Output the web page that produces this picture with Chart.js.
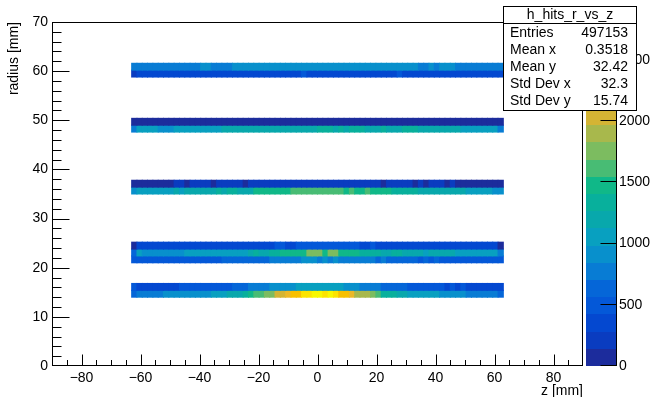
<!DOCTYPE html>
<html><head><meta charset="utf-8">
<script src="https://cdn.jsdelivr.net/npm/chart.js@4.4.0/dist/chart.umd.min.js"></script>
<style>html,body{margin:0;padding:0;background:#fff}</style>
</head><body>
<canvas id="c" width="650" height="397"></canvas>
<script>
// ---- histogram binning ----
const HIST_NAME = 'h_hits_r_vs_z';
const X_RANGE = [-90, 90];
const X_NBINS = 100;
const Y_RANGE = [0, 70];
const Y_NBINS = 50;
const FIRST_X_BIN = 15;
const ROW_BINS = [10, 11, 15, 16, 17, 25, 26, 34, 35, 42, 43];

// ---- bin contents, one array per radius bin (70 z bins each) ----
const r14_0 = [640,760,780,770,790,775,900,915,920,905,930,925,940,935,950,1040,1070,1090,1180,1210,1230,1330,1480,1600,1640,1740,1780,2020,2060,2190,2300,2340,2580,2620,2760,2810,2600,2750,2580,2330,2290,2160,1900,1880,1860,1760,1620,1350,1320,1300,1200,1170,1080,1060,1040,1030,1020,1000,960,940,930,900,890,820,800,790,770,760,740,630];
const r15_4 = [480,400,360,340,350,330,360,370,380,440,460,470,480,490,500,510,520,530,540,590,620,650,720,760,790,820,860,880,900,920,940,1000,1020,1040,1060,1080,1070,1050,1030,1010,950,910,870,830,790,760,730,680,650,630,600,580,550,520,500,480,460,450,440,410,450,400,440,390,370,350,340,330,320,300];
const r21_0 = [460,470,480,490,500,500,510,520,510,520,530,520,530,540,540,550,550,570,590,600,610,630,640,650,670,690,710,730,760,780,800,820,860,880,870,830,860,840,850,820,800,790,770,760,740,720,690,710,680,660,640,620,600,580,550,570,540,565,540,530,520,520,510,500,490,480,470,460,450,440];
const r22_4 = [650,1010,930,940,950,960,950,970,960,975,1000,1020,1030,1050,1060,1070,1080,1090,1100,1090,1100,1110,1180,1290,1210,1240,1300,1330,1420,1450,1470,1500,1520,1720,1740,1700,1510,1710,1730,1540,1500,1470,1430,1390,1360,1330,1300,1250,1220,1280,1270,1240,1220,1200,1180,1110,1150,1170,1190,1160,1140,1110,1090,1080,1060,1050,1040,1020,1000,760];
const r23_8 = [120,300,310,320,330,330,340,340,350,350,360,360,370,370,370,380,380,390,390,390,400,400,400,410,410,410,420,430,440,415,410,430,440,450,450,460,460,450,450,440,440,430,430,410,400,425,410,400,400,390,390,380,380,370,370,360,360,350,350,340,340,330,330,320,320,310,300,300,290,110];
const r35_0 = [900,1030,1050,1060,1070,1080,1090,1100,1140,1110,1150,1170,1180,1200,1220,1240,1280,1250,1290,1300,1250,1240,1260,1420,1440,1460,1480,1500,1510,1530,1560,1580,1600,1620,1640,1650,1630,1610,1590,1570,1530,1560,1520,1510,1550,1500,1480,1450,1420,1400,1370,1340,1310,1280,1260,1240,1220,1200,1190,1180,1160,1150,1130,1110,1090,1070,1040,1000,960,900];
const r36_4 = [100,110,115,120,125,130,130,135,150,160,135,150,155,160,150,138,160,170,165,170,160,136,170,180,185,190,200,205,210,220,225,230,235,240,240,235,230,225,220,210,200,190,180,175,170,160,150,138,160,170,165,155,150,135,145,132,150,148,145,130,143,130,125,120,115,110,105,100,95,90];
const r47_6 = [780,1000,1010,1000,990,960,950,970,990,1000,1010,1020,1030,1040,1050,1060,1080,1130,1140,1150,1160,1170,1180,1190,1200,1200,1210,1210,1220,1220,1230,1230,1240,1240,1250,1270,1290,1280,1250,1280,1260,1290,1300,1280,1250,1240,1230,1270,1250,1240,1250,1280,1270,1290,1250,1240,1220,1200,1190,1170,1160,1140,1110,1090,1070,1050,1030,1010,990,790];
const r49_0 = [95,100,105,108,110,112,115,115,118,118,120,120,122,122,124,124,125,125,126,126,127,127,128,128,129,129,130,130,131,131,132,132,132,133,133,133,133,132,132,132,131,131,130,130,129,129,128,128,127,127,126,126,125,125,124,124,122,122,120,120,118,118,115,115,112,110,108,105,100,95];
const r58_8 = [250,300,310,320,330,340,350,355,360,365,370,375,380,385,390,390,395,395,400,400,405,405,410,410,410,410,415,415,415,415,415,418,430,418,415,415,412,410,410,408,405,405,400,400,398,395,395,392,390,390,425,415,410,405,400,395,390,385,380,375,370,365,360,355,350,340,330,320,305,290];
const r60_2 = [720,740,750,760,770,780,790,800,805,810,815,820,830,850,860,835,830,835,840,850,855,860,865,870,875,880,885,890,895,900,905,910,910,915,915,920,920,920,920,915,915,910,905,900,895,890,885,880,870,865,860,855,850,848,835,830,850,835,850,855,848,835,830,820,810,800,790,770,750,720];
const ROWS = [r14_0, r15_4, r21_0, r22_4, r23_8, r35_0, r36_4, r47_6, r49_0, r58_8, r60_2];

// ---- axes / labels ----
const X_TICKS = [-80, -60, -40, -20, 0, 20, 40, 60, 80];
const Y_TICKS = [0, 10, 20, 30, 40, 50, 60, 70];
const Z_TICKS = [0, 500, 1000, 1500, 2000, 2500];
const X_TITLE = 'z [mm]';
const Y_TITLE = 'radius [mm]';
const STATS_LABELS = ['Entries', 'Mean x', 'Mean y', 'Std Dev x', 'Std Dev y'];
const STATS_VALUES = ['497153', '0.3518', '32.42', '32.3', '15.74'];

// ---- style ----
const PALETTE = ['#1c2c9c','#0a3cc0','#0448d0','#0458d8','#0566d8','#087cd4','#0890cc','#08a0c0','#08a8ac','#08b09c',
                 '#10b888','#48bc74','#7cbc60','#a8b84c','#d4b434','#ecb828','#f8c000','#fcd000','#fce400','#f8f800'];
const NCONT = PALETTE.length;
const FONT = '"Liberation Sans", Arial, sans-serif';

const xw = (X_RANGE[1] - X_RANGE[0]) / X_NBINS;
const yw = (Y_RANGE[1] - Y_RANGE[0]) / Y_NBINS;
const ZMAX = Math.max(...ROWS.flat());
const cells = [];
ROW_BINS.forEach((jb, r) => {
  ROWS[r].forEach((v, k) => {
    const ib = FIRST_X_BIN + k;
    cells.push({ x: [X_RANGE[0] + ib * xw, X_RANGE[0] + (ib + 1) * xw], y: Y_RANGE[0] + (jb + 0.5) * yw, v });
  });
});
const colorFor = v => PALETTE[Math.min(NCONT - 1, Math.floor(v / ZMAX * NCONT))];
const fmt = v => (v < 0 ? '\u2212' + Math.abs(v) : String(v));
const noPad = s => { s.paddingTop = 0; s.paddingBottom = 0; s.paddingLeft = 0; s.paddingRight = 0; };

const rootPlugin = {
  id: 'rootStyle',
  afterDraw(chart) {
    const { ctx, chartArea: a, scales: { x, y, z } } = chart;
    ctx.save();
    ctx.strokeStyle = '#000';
    ctx.lineWidth = 1;
    const L = Math.round(a.left) + 0.5, R = Math.round(a.right) - 0.5, T = Math.round(a.top) + 0.5, B = Math.round(a.bottom) - 0.5;
    ctx.strokeRect(L, T, R - L, B - T);
    ctx.beginPath();
    for (let v = X_RANGE[0] + 5; v < X_RANGE[1]; v += 5) {
      const px = Math.round(x.getPixelForValue(v)) + 0.5;
      const len = X_TICKS.includes(v) ? 11 : 5.5;
      ctx.moveTo(px, B); ctx.lineTo(px, B - len);
    }
    for (let v = Y_RANGE[0] + 2; v < Y_RANGE[1]; v += 2) {
      const py = Math.round(y.getPixelForValue(v)) + 0.5;
      const len = Y_TICKS.includes(v) ? 17 : 9;
      ctx.moveTo(L, py); ctx.lineTo(L + len, py);
    }
    ctx.stroke();
    // palette
    const px0 = Math.round(a.right) + 3, pw = 30;
    for (let i = 0; i < NCONT; i++) {
      const y0 = Math.round(z.getPixelForValue(i * ZMAX / NCONT));
      const y1 = Math.round(z.getPixelForValue((i + 1) * ZMAX / NCONT));
      ctx.fillStyle = PALETTE[i];
      ctx.fillRect(px0, y1, pw, y0 - y1);
    }
    ctx.beginPath();
    const ax = px0 + pw + 0.5;
    ctx.moveTo(ax, Math.round(a.top)); ctx.lineTo(ax, Math.round(a.bottom));
    Z_TICKS.forEach(v => {
      const py = Math.round(z.getPixelForValue(v)) - 0.5;
      ctx.moveTo(ax - 16, py); ctx.lineTo(ax, py);
    });
    ctx.stroke();
    // stats box
    const bx0 = 503.5, bx1 = 636.5, by0 = 6.5, by1 = 110.5, sep = 23.5;
    ctx.fillStyle = '#fff';
    ctx.fillRect(bx0, by0, bx1 - bx0, by1 - by0);
    ctx.strokeRect(bx0, by0, bx1 - bx0, by1 - by0);
    ctx.beginPath(); ctx.moveTo(bx0, sep); ctx.lineTo(bx1, sep); ctx.stroke();
    ctx.fillStyle = '#000';
    ctx.font = '14px ' + FONT;
    ctx.textBaseline = 'middle';
    ctx.textAlign = 'center';
    ctx.fillText(HIST_NAME, (bx0 + bx1) / 2, 15);
    STATS_LABELS.forEach((lab, i) => {
      const ty = 33 + i * 17;
      ctx.textAlign = 'left'; ctx.fillText(lab, 510, ty);
      ctx.textAlign = 'right'; ctx.fillText(STATS_VALUES[i], 628, ty);
    });
    ctx.restore();
  }
};

Chart.defaults.font.family = FONT;
Chart.defaults.color = '#000';

new Chart(document.getElementById('c'), {
  type: 'bar',
  data: {
    datasets: [{
      data: cells,
      backgroundColor: c => (c.raw ? colorFor(c.raw.v) : '#000'),
      borderWidth: 0,
      borderSkipped: false,
      categoryPercentage: 1,
      barPercentage: 1,
      grouped: false,
      inflateAmount: 0.5,
      xAxisID: 'x',
      yAxisID: 'y'
    }]
  },
  options: {
    indexAxis: 'y',
    responsive: false,
    devicePixelRatio: 1,
    animation: false,
    events: [],
    layout: { padding: { top: 22, left: 0, right: 0, bottom: 0 } },
    plugins: { legend: { display: false }, tooltip: { enabled: false } },
    scales: {
      x: {
        type: 'linear', position: 'bottom', min: X_RANGE[0], max: X_RANGE[1], offset: false,
        grid: { display: false, drawTicks: false, offset: false }, border: { display: false },
        ticks: { font: { size: 14 }, padding: 4, maxRotation: 0, autoSkip: false, callback: v => fmt(v) },
        afterBuildTicks: s => { s.ticks = X_TICKS.map(v => ({ value: v })); },
        afterFit: s => { s.height = 31; noPad(s); },
        title: { display: true, text: X_TITLE, align: 'end', font: { size: 14, lineHeight: 0.9 }, padding: { top: 0, bottom: 0 } }
      },
      y: {
        type: 'linear', position: 'left', min: Y_RANGE[0], max: Y_RANGE[1], offset: false,
        grid: { display: false, drawTicks: false, offset: false }, border: { display: false },
        ticks: { font: { size: 14 }, padding: 4, autoSkip: false, callback: v => fmt(v) },
        afterBuildTicks: s => { s.ticks = Y_TICKS.map(v => ({ value: v })); },
        afterFit: s => { s.width = 52; noPad(s); },
        title: { display: true, text: Y_TITLE, align: 'end', font: { size: 14 }, padding: { top: 6, bottom: 0 } }
      },
      z: {
        type: 'linear', axis: 'y', position: 'right', min: 0, max: ZMAX, offset: false,
        grid: { display: false, drawTicks: false }, border: { display: false },
        ticks: { font: { size: 14 }, padding: 36, autoSkip: false, callback: v => String(v) },
        afterBuildTicks: s => { s.ticks = Z_TICKS.map(v => ({ value: v })); },
        afterFit: s => { s.width = 67; noPad(s); }
      }
    }
  },
  plugins: [rootPlugin]
});
</script>
</body></html>
